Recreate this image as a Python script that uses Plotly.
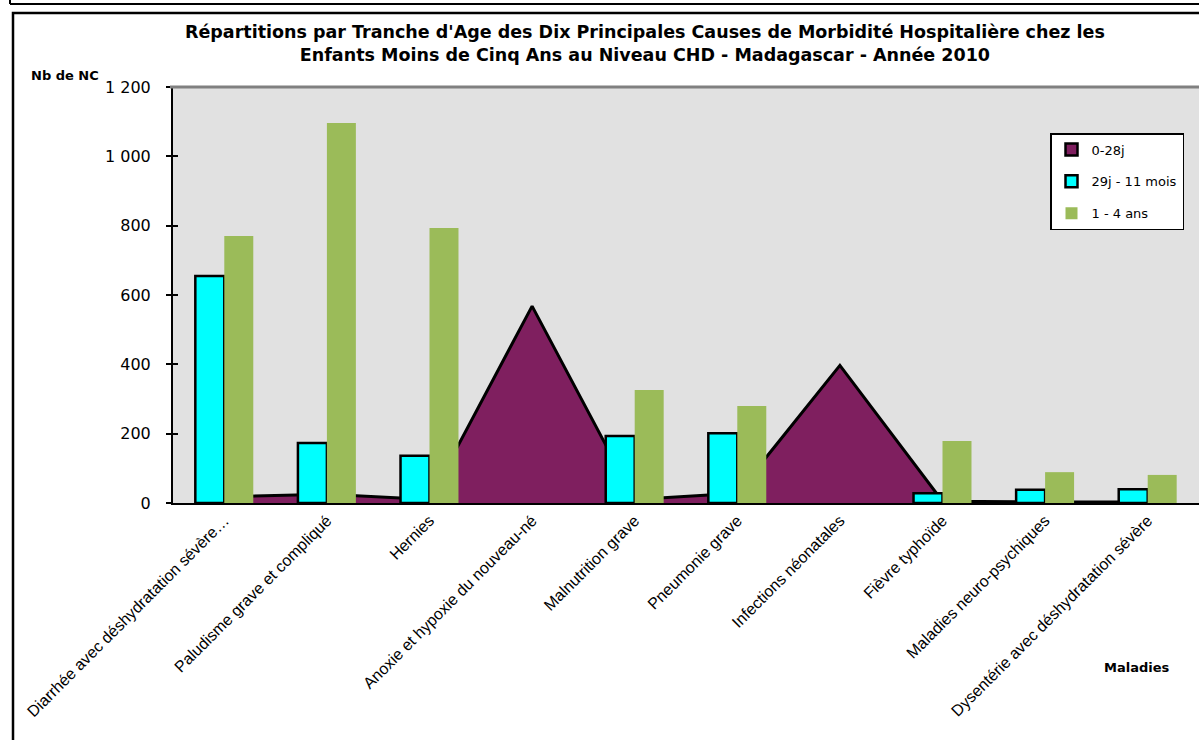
import plotly.graph_objects as go

categories = [
    "Diarrhée avec déshydratation sévère…",
    "Paludisme grave et compliqué",
    "Hernies",
    "Anoxie et hypoxie du nouveau-né",
    "Malnutrition grave",
    "Pneumonie grave",
    "Infections néonatales",
    "Fièvre typhoïde",
    "Maladies neuro-psychiques",
    "Dysentérie avec déshydratation sévère",
]
series_names = ["0-28j", "29j - 11 mois", "1 - 4 ans"]
v_0_28j = [18, 25, 10, 568, 10, 28, 397, 5, 3, 3]
v_29j_11m = [655, 173, 136, None, 193, 201, None, 28, 38, 40]
v_1_4ans = [770, 1096, 793, None, 326, 280, None, 179, 89, 81]
y_ticks = [0, 200, 400, 600, 800, 1000, 1200]

PURPLE = "#7F1F5F"
CYAN = "#00FFFF"
GREEN = "#9BBB59"
FONT = "Liberation Sans, Arial, sans-serif"
WIDE = "DejaVu Sans, Liberation Sans, sans-serif"

W, H = 1199, 740
ML, MR, MT, MB = 173, 0, 87, 237
PW, PH = W - ML - MR, H - MT - MB


def px(x):
    return (x - ML) / PW


def py(y):
    return (H - MB - y) / PH


fig = go.Figure()

# Area series (behind bars) on base x axis
fig.add_trace(go.Scatter(
    x=categories, y=v_0_28j, xaxis="x", yaxis="y",
    mode="lines", fill="tozeroy", fillcolor=PURPLE,
    line=dict(color="black", width=3), showlegend=False,
    name=series_names[0], hoverinfo="x+y",
))

# Bars on overlaid x axis (drawn above the area)
fig.add_trace(go.Bar(
    x=categories, y=v_29j_11m, xaxis="x2", yaxis="y",
    marker=dict(color=CYAN, line=dict(color="black", width=2.5)),
    name=series_names[1], showlegend=True, legendrank=2, legendgroup="b",
))
fig.add_trace(go.Bar(
    x=categories, y=v_1_4ans, xaxis="x2", yaxis="y",
    marker=dict(color=GREEN, line=dict(width=0)),
    name=series_names[2], showlegend=True, legendrank=3, legendgroup="c",
))

# Legend swatch for the area series (on a separate hidden axis)
fig.add_trace(go.Bar(
    x=[0], y=[None], xaxis="x3", yaxis="y3",
    marker=dict(color=PURPLE, line=dict(color="black", width=2.5)),
    name=series_names[0], showlegend=True, legendrank=1, legendgroup="a",
))

# dummy trace to activate yaxis2 for inside ticks
fig.add_trace(go.Scatter(x=[None], y=[None], yaxis="y2", xaxis="x",
                         showlegend=False, hoverinfo="skip"))

common_x = dict(
    type="category", categoryorder="array", categoryarray=categories,
    range=[-0.5, len(categories) - 0.5],
)

fig.update_layout(
    width=W, height=H,
    margin=dict(l=ML, r=MR, t=MT, b=MB, pad=0),
    paper_bgcolor="white", plot_bgcolor="#E1E1E1",
    font=dict(family=FONT, color="black"),
    separators=", ",
    barmode="group", bargap=0.435, bargroupgap=0,
    xaxis=dict(
        **common_x,
        showgrid=False, zeroline=False,
        showline=True, linecolor="black", linewidth=2,
        ticks="", tickangle=-45, tickfont=dict(size=16, family=FONT),
    ),
    xaxis2=dict(**common_x, overlaying="x", visible=False),
    xaxis3=dict(overlaying="x", visible=False, range=[10, 11]),
    yaxis=dict(
        range=[0, 1200], tickvals=y_ticks, tickformat=",d",
        showgrid=False, zeroline=False,
        showline=True, linecolor="black", linewidth=2,
        ticks="outside", ticklen=5, tickwidth=1.5, tickcolor="black",
        tickfont=dict(size=16, family=WIDE), ticklabelstandoff=12,
    ),
    yaxis2=dict(
        range=[0, 1200], tickvals=y_ticks, overlaying="y",
        showgrid=False, zeroline=False, showline=False,
        ticks="inside", ticklen=5, tickwidth=1.5, tickcolor="black",
        showticklabels=False,
    ),
    yaxis3=dict(overlaying="y", visible=False, range=[0, 1]),
    legend=dict(
        x=px(1050), y=py(133), xanchor="left", yanchor="top",
        bgcolor="white", bordercolor="black", borderwidth=1.5,
        font=dict(size=13, family=WIDE),
        traceorder="grouped", tracegroupgap=12,
        itemwidth=30,
    ),
    showlegend=True,
)

fig.add_annotation(
    xref="paper", yref="paper", x=px(645), y=py(20), xanchor="center", yanchor="top",
    text="<b>Répartitions par Tranche d'Age des Dix Principales Causes de Morbidité Hospitalière chez les<br>"
         "Enfants Moins de Cinq Ans au Niveau CHD - Madagascar - Année 2010</b>",
    showarrow=False, font=dict(size=17.5, family=WIDE, color="black"), align="center",
)
fig.add_annotation(
    xref="paper", yref="paper", x=px(29), y=py(75), xanchor="left", yanchor="middle",
    text="<b>Nb de NC</b>", showarrow=False, font=dict(size=13, family=WIDE, color="black"),
)
fig.add_annotation(
    xref="paper", yref="paper", x=px(1137), y=py(667), xanchor="center", yanchor="middle",
    text="<b>Maladies</b>", showarrow=False, font=dict(size=13, family=WIDE, color="black"),
)

shapes = [
    dict(type="line", xref="paper", yref="paper", x0=px(170), x1=px(1205), y0=py(87), y1=py(87),
         line=dict(color="#808080", width=3), layer="above"),
    dict(type="rect", xref="paper", yref="paper", x0=px(13), x1=px(1215), y0=py(13), y1=py(760),
         line=dict(color="black", width=2.5), layer="above"),
    dict(type="line", xref="paper", yref="paper", x0=px(10), x1=px(1215), y0=py(4), y1=py(4),
         line=dict(color="black", width=2), layer="above"),
    dict(type="line", xref="paper", yref="paper", x0=px(10), x1=px(10), y0=py(-5), y1=py(4),
         line=dict(color="black", width=2), layer="above"),
]
fig.update_layout(shapes=shapes)

fig.write_html(
    "out.html",
    config={"displayModeBar": False},
    post_script="document.body.style.margin='0';document.body.style.overflow='hidden';",
)
